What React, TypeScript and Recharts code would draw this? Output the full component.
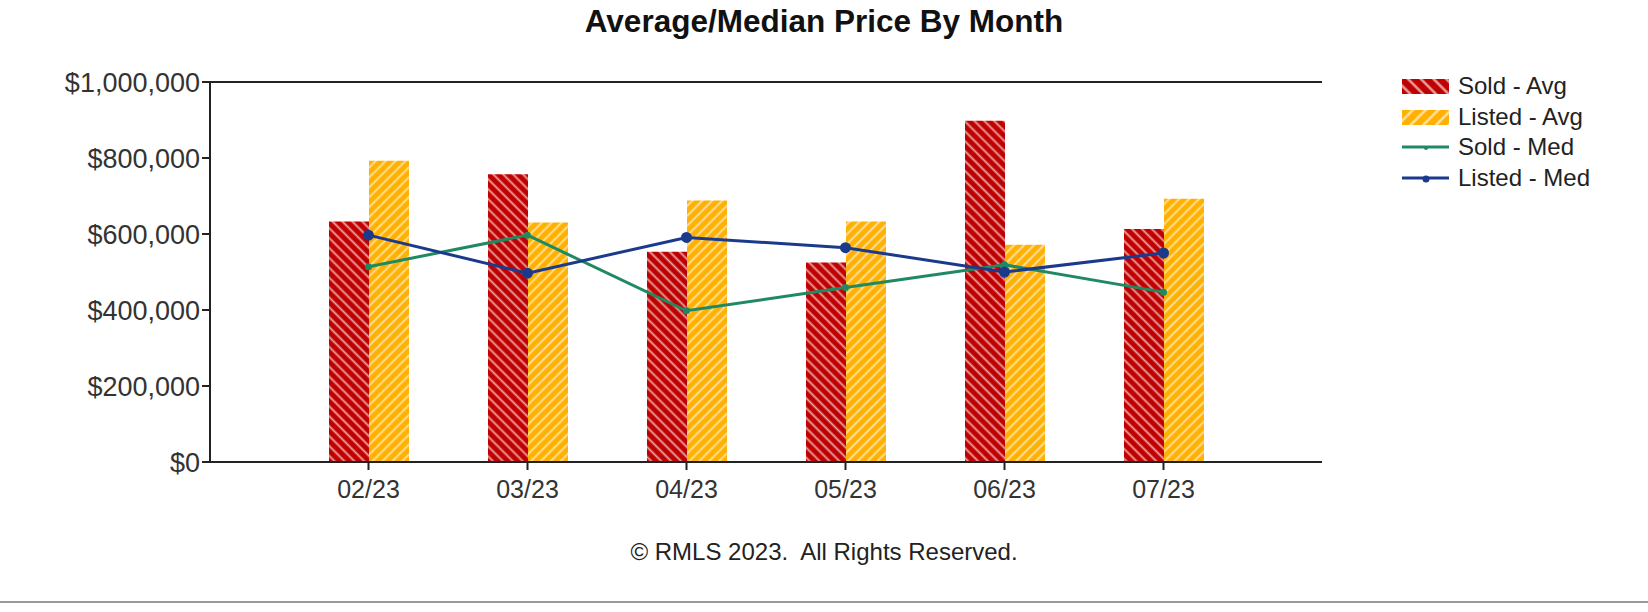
import React from 'react';
import { ComposedChart, Bar, Line, XAxis, YAxis, CartesianGrid } from 'recharts';

const months = ['02/23', '03/23', '04/23', '05/23', '06/23', '07/23'];
const soldAvg = [633000, 757000, 553000, 525000, 898000, 613000];
const listedAvg = [793000, 630000, 688000, 633000, 572000, 693000];
const soldMed = [514000, 597000, 398000, 459000, 519000, 447000];
const listedMed = [597000, 497000, 591000, 564000, 500000, 550000];
const yTicks = [0, 200000, 400000, 600000, 800000, 1000000];

const RED = '#c00000';
const ORANGE = '#ffb000';
const GREEN = '#1f8a62';
const BLUE = '#1c3a8c';
const FONT = '"Liberation Sans", Arial, sans-serif';

const data = months.map((m, i) => ({
  month: m,
  soldAvg: soldAvg[i],
  listedAvg: listedAvg[i],
  soldMed: soldMed[i],
  listedMed: listedMed[i],
}));

const fmt = (v: number) => `$${v.toLocaleString('en-US')}`;

const Hatch = ({ id, color, angle, size = 7, w = 1.6 }: { id: string; color: string; angle: number; size?: number; w?: number }) => (
  <pattern id={id} width={size} height={size} patternUnits="userSpaceOnUse" patternTransform={`rotate(${angle})`}>
    <rect width={size} height={size} fill={color} />
    <line x1="1.5" y1="0" x2="1.5" y2={size} stroke="#ffffff" strokeOpacity="0.65" strokeWidth={w} />
  </pattern>
);

const legendItems = [
  { label: 'Sold - Avg', kind: 'bar', fill: 'url(#lgRed)' },
  { label: 'Listed - Avg', kind: 'bar', fill: 'url(#lgOrange)' },
  { label: 'Sold - Med', kind: 'line', color: GREEN, r: 2 },
  { label: 'Listed - Med', kind: 'line', color: BLUE, r: 3.5 },
];

const ChartLegend = () => (
  <div style={{ position: 'absolute', left: 1402, top: 71, fontFamily: FONT, fontSize: 24, color: '#222' }}>
    <svg width="0" height="0" style={{ position: 'absolute' }}>
      <defs>
        <Hatch id="lgRed" color={RED} angle={-45} size={9} w={2.4} />
        <Hatch id="lgOrange" color={ORANGE} angle={45} size={9} w={2.4} />
      </defs>
    </svg>
    {legendItems.map((it) => (
      <div key={it.label} style={{ display: 'flex', alignItems: 'center', height: 30.5 }}>
        <svg width="48" height="22" style={{ marginRight: 8 }}>
          {it.kind === 'bar' ? (
            <rect x="0" y="4" width="47" height="15" fill={it.fill} />
          ) : (
            <g>
              <line x1="0" y1="11" x2="47" y2="11" stroke={it.color} strokeWidth="3" />
              <circle cx="24" cy="12" r={it.r} fill={it.color} />
            </g>
          )}
        </svg>
        <span>{it.label}</span>
      </div>
    ))}
  </div>
);

export default function App() {
  return (
    <div style={{ position: 'relative', width: 1648, height: 612, background: '#fff', fontFamily: FONT }}>
      <style>{'body{margin:0}'}</style>
      <div style={{ position: 'absolute', left: 0, width: 1648, top: 3, textAlign: 'center', fontSize: 31.5, fontWeight: 'bold', color: '#111' }}>
        Average/Median Price By Month
      </div>
      <ComposedChart
        width={1648}
        height={612}
        data={data}
        margin={{ top: 82, right: 326, bottom: 110, left: 80 }}
        barGap={0}
      >
        <defs>
          <Hatch id="hRed" color={RED} angle={-45} w={1.8} />
          <Hatch id="hOrange" color={ORANGE} angle={45} w={1.8} />
        </defs>
        <CartesianGrid vertical={false} stroke="#222" strokeWidth={2} />
        <XAxis
          dataKey="month"
          height={40}
          padding={{ left: 79, right: 79 }}
          stroke="#222"
          strokeWidth={2}
          tickSize={8}
          tickMargin={10}
          tick={{ fill: '#333', fontSize: 25, fontFamily: FONT }}
        />
        <YAxis
          yAxisId="l"
          width={130}
          domain={[0, 1000000]}
          ticks={yTicks}
          tickFormatter={fmt}
          stroke="#222"
          strokeWidth={2}
          tickSize={8}
          tickMargin={2}
          tick={{ fill: '#333', fontSize: 27, fontFamily: FONT }}
        />
        <YAxis yAxisId="r" orientation="right" width={0} domain={[0, 1000000]} tick={false} stroke="#222" strokeWidth={2} />
        <Bar yAxisId="l" dataKey="soldAvg" barSize={40} fill="url(#hRed)" isAnimationActive={false} />
        <Bar yAxisId="l" dataKey="listedAvg" barSize={40} fill="url(#hOrange)" isAnimationActive={false} />
        <Line
          yAxisId="l"
          type="linear"
          dataKey="soldMed"
          stroke={GREEN}
          strokeWidth={3}
          dot={{ r: 2, fill: GREEN, stroke: GREEN }}
          isAnimationActive={false}
        />
        <Line
          yAxisId="l"
          type="linear"
          dataKey="listedMed"
          stroke={BLUE}
          strokeWidth={3}
          dot={{ r: 4, fill: BLUE, stroke: BLUE }}
          isAnimationActive={false}
        />
      </ComposedChart>
      <ChartLegend />
      <div style={{ position: 'absolute', left: 0, width: 1648, top: 538, textAlign: 'center', fontSize: 24, color: '#222', whiteSpace: 'pre' }}>
        {'© RMLS 2023.  All Rights Reserved.'}
      </div>
      <div style={{ position: 'absolute', left: 0, width: 1648, top: 601, height: 2, background: '#999' }} />
    </div>
  );
}
